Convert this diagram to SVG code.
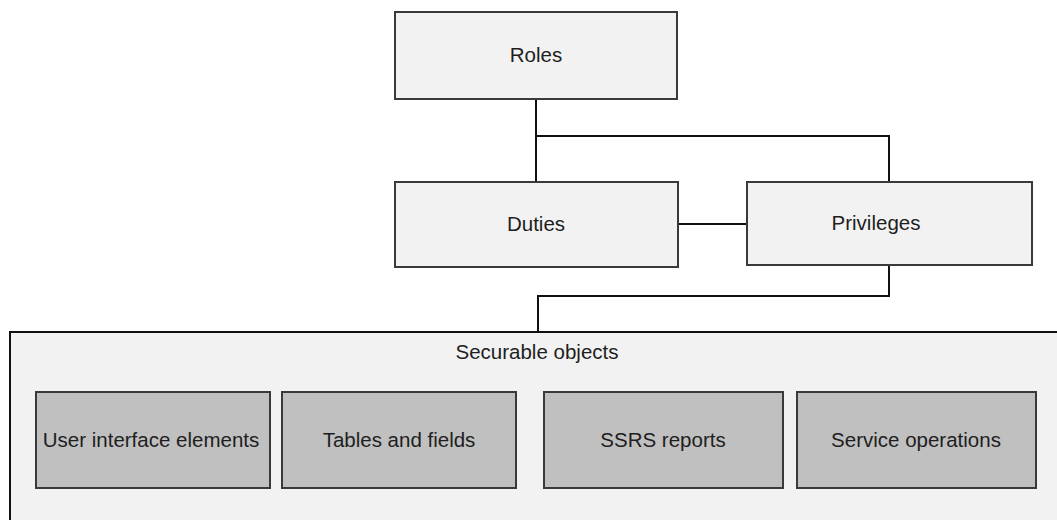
<svg xmlns="http://www.w3.org/2000/svg" width="1057" height="520" viewBox="0 0 1057 520">
<style>
.box{fill:#f2f2f2;stroke:#3a3a3a;stroke-width:2}
.inner{fill:#c0c0c0;stroke:#3a3a3a;stroke-width:2}
.lbl{font-family:"Liberation Sans",Arial,sans-serif;font-size:20.5px;fill:#1e1e1e;text-anchor:middle}
.conn{fill:none;stroke:#111;stroke-width:2}
</style>
<rect width="1057" height="520" fill="#fff"/>
<g id="connectors">
<polyline class="conn" points="536,99 536,182"/>
<polyline class="conn" points="536,136 889,136 889,182"/>
<polyline class="conn" points="678,224 747,224"/>
<polyline class="conn" points="889,265 889,296 538,296 538,332"/>
</g>
<g id="securable">
<rect x="10" y="332" width="1060" height="200" fill="#f2f2f2" stroke="#111" stroke-width="2"/>
<text class="lbl" x="537" y="359">Securable objects</text>
</g>
<g id="roles">
<rect class="box" x="395" y="12" width="282" height="87"/>
<text class="lbl" x="536" y="62">Roles</text>
</g>
<g id="duties">
<rect class="box" x="395" y="182" width="283" height="85"/>
<text class="lbl" x="536" y="231">Duties</text>
</g>
<g id="privileges">
<rect class="box" x="747" y="182" width="285" height="83"/>
<text class="lbl" x="876" y="230">Privileges</text>
</g>
<g id="ui">
<rect class="inner" x="36" y="392" width="234" height="96"/>
<text class="lbl" x="151" y="447">User interface elements</text>
</g>
<g id="tables">
<rect class="inner" x="282" y="392" width="234" height="96"/>
<text class="lbl" x="399" y="447">Tables and fields</text>
</g>
<g id="ssrs">
<rect class="inner" x="544" y="392" width="239" height="96"/>
<text class="lbl" x="663" y="447">SSRS reports</text>
</g>
<g id="service">
<rect class="inner" x="797" y="392" width="239" height="96"/>
<text class="lbl" x="916" y="447">Service operations</text>
</g>
</svg>
